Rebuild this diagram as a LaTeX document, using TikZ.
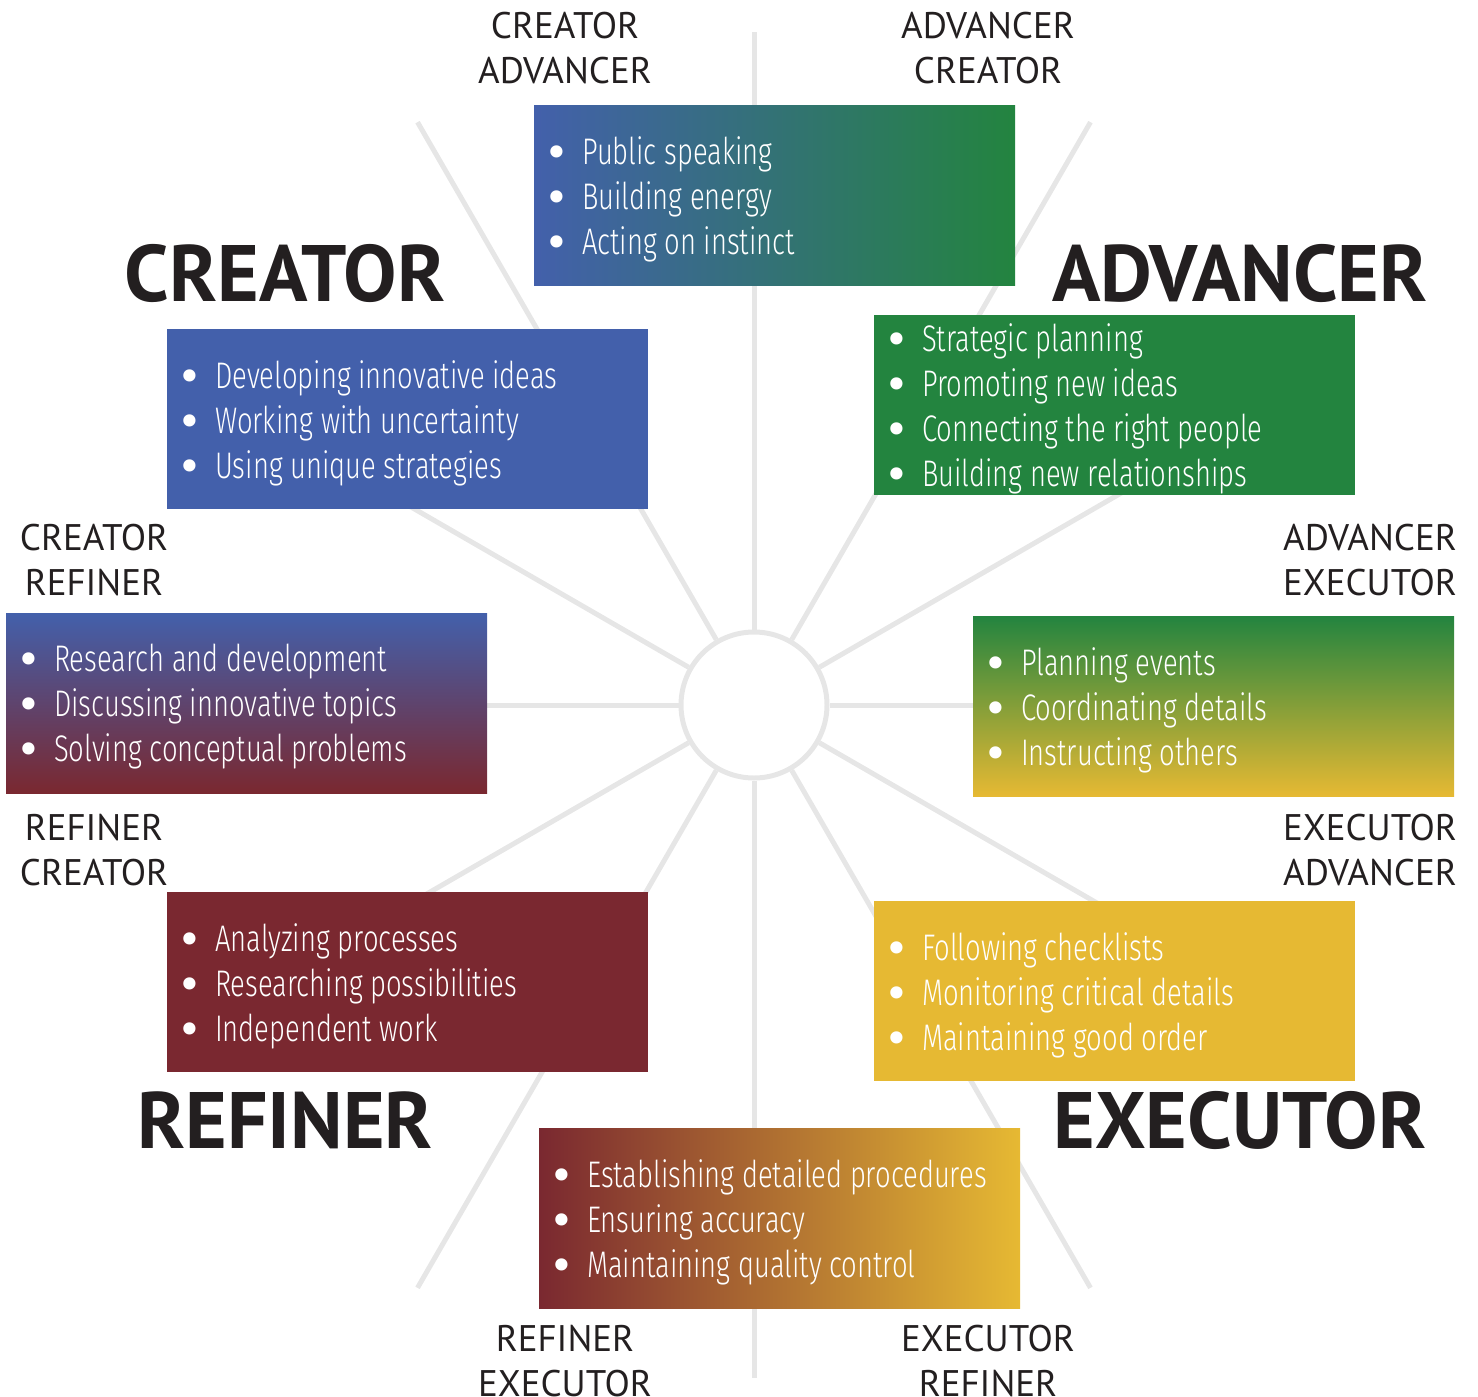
\documentclass[tikz,border=0pt]{standalone}
\usepackage{fontspec}
\usetikzlibrary{calc}
\setmainfont{PT Sans}
\newfontfamily\labelfont{PT Sans}
\newfontfamily\bodyfont[FakeStretch=0.74, UprightFont=* Light]{Fira Sans}
\newfontfamily\bulletfont{DejaVu Sans}

\definecolor{cblue}{HTML}{4360AB}
\definecolor{cgreen}{HTML}{23843F}
\definecolor{cred}{HTML}{7A2830}
\definecolor{cyellow}{HTML}{E6B933}
\definecolor{spoke}{HTML}{E6E6E6}
\definecolor{ink}{HTML}{231F20}

\newcommand\bul{\makebox[38pt][l]{\raisebox{-3pt}{\bulletfont\fontsize{42}{42}\selectfont\textbullet}}}

\tikzset{
  spokeline/.style={draw=spoke, line width=5pt},
  panel/.style={rectangle, anchor=north west, minimum width=481pt,
    minimum height=180pt, inner sep=0pt, outer sep=0pt},
  items/.style={anchor=west, align=left, inner sep=0pt, text=white,
    font=\bodyfont\fontsize{37}{45}\selectfont},
  pair/.style={align=center, inner sep=0pt, text=ink,
    font=\labelfont\fontsize{37}{45}\selectfont},
  title/.style={inner sep=0pt, text=ink,
    font=\labelfont\bfseries\fontsize{80}{80}\selectfont},
}

\begin{document}
\begin{tikzpicture}[x=1pt, y=-1pt]
\useasboundingbox (0,0) rectangle (1478,1397);

% hub and twelve spokes
\node[circle, draw=spoke, line width=5pt, minimum size=146pt, inner sep=0pt] (hub) at (754,705) {};
\foreach \a [count=\i] in {0,30,...,330} {
  \coordinate (tip\i) at ($(hub.center)!673pt!(hub.\a)$);
  \draw[spokeline] (hub.\a) -- (tip\i);
}

% panels
\node[panel, left color=cblue, right color=cgreen] (pTop) at (534,105) {};
\node[panel, fill=cblue] (pCre) at (167,329) {};
\node[panel, fill=cgreen] (pAdv) at (874,315) {};
\node[panel, top color=cblue, bottom color=cred] (pCR) at (6,613) {};
\node[panel, top color=cgreen, bottom color=cyellow] (pAE) at (973,616) {};
\node[panel, fill=cred] (pRef) at (167,892) {};
\node[panel, fill=cyellow] (pExe) at (874,901) {};
\node[panel, left color=cred, right color=cyellow] (pBot) at (539,1128) {};

% bullet lists
\node[items] at ($(pTop.west)+(10,4)$) {\bul Public speaking\\\bul Building energy\\\bul Acting on instinct};
\node[items] at ($(pCre.west)+(10,4)$) {\bul Developing innovative ideas\\\bul Working with uncertainty\\\bul Using unique strategies};
\node[items] at ($(pAdv.west)+(10,4)$) {\bul Strategic planning\\\bul Promoting new ideas\\\bul Connecting the right people\\\bul Building new relationships};
\node[items] at ($(pCR.west)+(10,4)$) {\bul Research and development\\\bul Discussing innovative topics\\\bul Solving conceptual problems};
\node[items] at ($(pAE.west)+(10,4)$) {\bul Planning events\\\bul Coordinating details\\\bul Instructing others};
\node[items] at ($(pRef.west)+(10,4)$) {\bul Analyzing processes\\\bul Researching possibilities\\\bul Independent work};
\node[items] at ($(pExe.west)+(10,4)$) {\bul Following checklists\\\bul Monitoring critical details\\\bul Maintaining good order};
\node[items] at ($(pBot.west)+(10,4)$) {\bul Establishing detailed procedures\\\bul Ensuring accuracy\\\bul Maintaining quality control};

% main titles
\node[title] (tCre) at (285,273) {CREATOR};
\node[title] (tAdv) at (1240,273) {ADVANCER};
\node[title] (tRef) at (285,1120) {REFINER};
\node[title] (tExe) at (1240,1120) {EXECUTOR};

% blend labels
\node[pair] (lCA) at (565,48) {CREATOR\\ADVANCER};
\node[pair] (lAC) at (988,48) {ADVANCER\\CREATOR};
\node[pair] (lCR) at (94,560) {CREATOR\\REFINER};
\node[pair] (lAE) at (1370,560) {ADVANCER\\EXECUTOR};
\node[pair] (lRC) at (94,850) {REFINER\\CREATOR};
\node[pair] (lEA) at (1370,850) {EXECUTOR\\ADVANCER};
\node[pair] (lRE) at (565,1361) {REFINER\\EXECUTOR};
\node[pair] (lER) at (988,1361) {EXECUTOR\\REFINER};
\end{tikzpicture}
\end{document}
